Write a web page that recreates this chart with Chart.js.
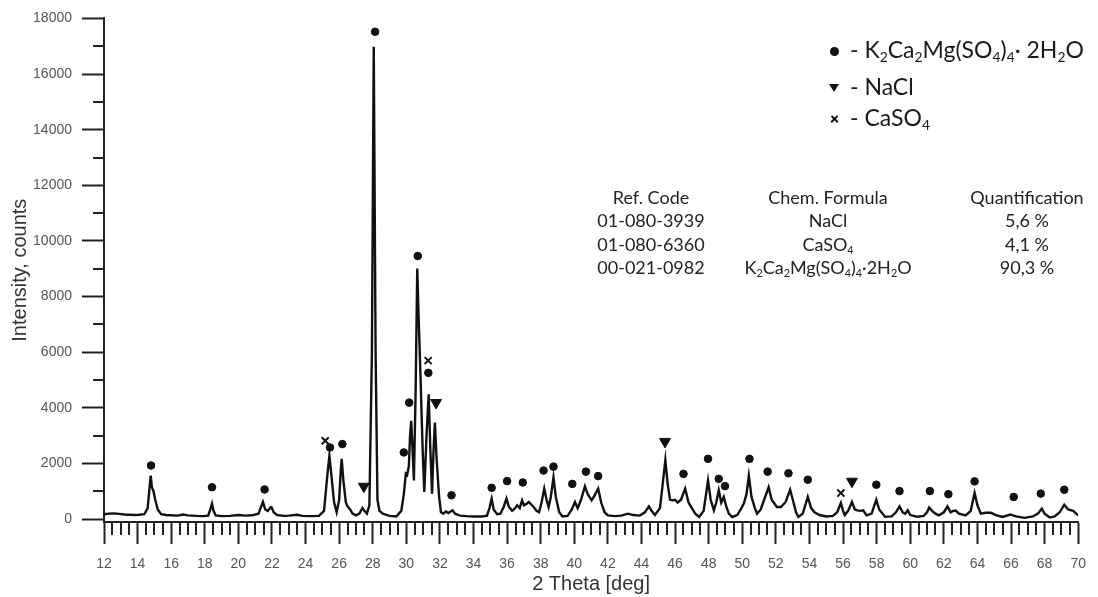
<!DOCTYPE html>
<html>
<head>
<meta charset="utf-8">
<script src="https://cdn.jsdelivr.net/npm/chart.js@4/dist/chart.umd.min.js"></script>
<style>
  html, body { margin: 0; padding: 0; background: #fff; }
  .wrap { position: relative; width: 1098px; height: 597px; overflow: hidden; }
  canvas { position: absolute; left: 0; top: 0; }
  .txt { position: absolute; font-family: Lato, "Open Sans", sans-serif; color: #1a1a1a; white-space: nowrap; }
  .legend-row { font-size: 23px; line-height: 22px; }
  .tbl { font-size: 18px; line-height: 23.4px; color: #222; text-align: center; }
  sub { font-size: 0.6em; vertical-align: -0.3em; line-height: 0; }
  .mk-circle { position: absolute; width: 9px; height: 9px; border-radius: 50%; background: #111; }
  .mk-tri { position: absolute; width: 0; height: 0; border-left: 5px solid transparent; border-right: 5px solid transparent; border-top: 8px solid #111; }
  .mk-x { position: absolute; width: 9px; height: 2.4px; background: #111; }
</style>
</head>
<body>
<div class="wrap">
  <canvas id="xrdChart" width="1098" height="597"></canvas>

  <div class="mk-circle" style="left:830px; top:47px;"></div>
  <div class="txt legend-row" style="left:850px; top:38px;">- K<sub>2</sub>Ca<sub>2</sub>Mg(SO<sub>4</sub>)<sub>4</sub>· 2H<sub>2</sub>O</div>
  <div class="mk-tri" style="left:829px; top:84px;"></div>
  <div class="txt legend-row" style="left:850px; top:75px;">- NaCl</div>
  <div class="mk-x" style="left:830px; top:118px; transform: rotate(45deg);"></div>
  <div class="mk-x" style="left:830px; top:118px; transform: rotate(-45deg);"></div>
  <div class="txt legend-row" style="left:850px; top:106px;">- CaSO<sub>4</sub></div>

  <div class="txt tbl" style="left:576px; top:186px; width:150px;">Ref. Code<br>01-080-3939<br>01-080-6360<br>00-021-0982</div>
  <div class="txt tbl" style="left:728px; top:186px; width:200px;">Chem. Formula<br>NaCl<br>CaSO<sub>4</sub><br>K<sub>2</sub>Ca<sub>2</sub>Mg(SO<sub>4</sub>)<sub>4</sub>·2H<sub>2</sub>O</div>
  <div class="txt tbl" style="left:952px; top:186px; width:150px;">Quantification<br>5,6 %<br>4,1 %<br>90,3 %</div>
</div>

<script>
// diffraction pattern
const thetaValues = [
  12.0, 12.3, 12.6, 12.9, 13.2, 13.5, 13.8, 14.1, 14.4, 14.6, 14.72, 14.78, 14.85, 14.95, 15.05, 15.2, 15.4, 15.7,
  16.0, 16.4, 16.7, 17.0, 17.5, 17.9, 18.2, 18.33, 18.43, 18.52, 18.65, 19.0, 19.5, 20.0, 20.4, 20.8,
  21.2, 21.35, 21.46, 21.6, 21.75, 21.9, 21.97, 22.1, 22.3, 22.7, 23.0, 23.5, 23.8, 24.3, 24.8,
  25.1, 25.3, 25.42, 25.55, 25.7, 25.85, 26.0, 26.1, 26.15, 26.25, 26.4, 26.5, 26.65, 26.8, 27.0,
  27.2, 27.39, 27.5, 27.65, 27.8, 27.95, 28.06, 28.17, 28.28, 28.4, 28.6, 29.0, 29.4, 29.7, 29.85,
  29.97, 30.05, 30.15, 30.22, 30.29, 30.37, 30.45, 30.55, 30.65, 30.72, 30.85, 30.97, 31.07, 31.2,
  31.33, 31.43, 31.53, 31.62, 31.7, 31.8, 31.95, 32.06, 32.2, 32.35, 32.5, 32.75, 32.9, 33.2, 33.6,
  34.0, 34.5, 34.8, 34.95, 35.08, 35.2, 35.4, 35.6, 35.8, 35.96, 36.1, 36.3, 36.45, 36.6, 36.75,
  36.89, 37.0, 37.15, 37.29, 37.45, 37.58, 37.75, 37.9, 38.05, 38.21, 38.35, 38.47, 38.6, 38.76,
  38.9, 39.1, 39.3, 39.6, 39.85, 40.04, 40.2, 40.4, 40.63, 40.8, 41.03, 41.2, 41.42, 41.6, 41.8,
  42.0, 42.4, 42.8, 43.2, 43.5, 43.9, 44.2, 44.44, 44.6, 44.8, 45.1, 45.25, 45.42, 45.55, 45.7,
  45.85, 46.0, 46.15, 46.35, 46.6, 46.8, 47.0, 47.2, 47.43, 47.7, 47.96, 48.12, 48.31, 48.45, 48.6,
  48.75, 48.9, 49.05, 49.2, 49.4, 49.7, 49.95, 50.09, 50.25, 50.39, 50.55, 50.75, 50.88, 51.1, 51.3,
  51.57, 51.75, 52.06, 52.3, 52.58, 52.85, 53.05, 53.2, 53.34, 53.6, 53.9, 54.1, 54.3, 54.6, 55.0,
  55.4, 55.65, 55.87, 56.0, 56.1, 56.3, 56.53, 56.7, 56.85, 57.05, 57.2, 57.4, 57.7, 57.98, 58.15,
  58.5, 58.9, 59.15, 59.36, 59.55, 59.7, 59.85, 60.0, 60.4, 60.8, 61.0, 61.13, 61.3, 61.5, 61.7,
  62.0, 62.22, 62.4, 62.55, 62.71, 62.9, 63.3, 63.6, 63.83, 64.0, 64.2, 64.5, 64.8, 65.1, 65.5,
  65.96, 66.3, 66.8, 67.3, 67.6, 67.83, 68.0, 68.3, 68.6, 68.9, 69.17, 69.4, 69.7, 70.0
];
const intensityValues = [
  180, 200, 210, 190, 170, 160, 150, 160, 180, 400, 1200, 1570, 1150, 1000, 700, 350, 180, 150,
  140, 130, 170, 140, 120, 110, 130, 350, 560, 300, 140, 110, 120, 150, 130, 140,
  200, 450, 620, 350, 300, 420, 430, 250, 150, 120, 130, 160, 120, 110, 120,
  300, 1600, 2285, 1500, 600, 250, 700, 1800, 2170, 1400, 600, 460, 350, 200, 140,
  200, 400, 300, 200, 500, 6000, 16980, 6000, 700, 300, 200, 120, 100, 300, 900,
  1640, 1600, 1900, 3000, 3540, 2500, 1390, 4500, 9010, 7500, 5000, 2500, 980, 3000,
  4490, 2500, 920, 2500, 3470, 2200, 800, 260, 200, 280, 220, 320, 200, 130, 110,
  100, 100, 130, 400, 740, 350, 180, 200, 450, 740, 450, 300, 380, 500, 400,
  680, 500, 550, 620, 520, 440, 300, 250, 600, 1100, 700, 440, 800, 1510,
  800, 250, 100, 120, 350, 620, 400, 700, 1180, 900, 680, 850, 1100, 600, 250,
  140, 110, 130, 200, 150, 130, 250, 460, 300, 150, 400, 1200, 2130, 1300, 700,
  680, 700, 600, 700, 1100, 600, 400, 200, 80, 300, 1390, 700, 320, 600, 1040,
  600, 800, 450, 200, 80, 150, 400, 560, 900, 1570, 800, 400, 200, 350, 700,
  1150, 700, 440, 440, 620, 1060, 600, 250, 80, 200, 800, 400, 250, 150, 100,
  120, 250, 580, 300, 150, 300, 620, 350, 320, 300, 320, 140, 200, 700, 350,
  90, 100, 250, 460, 250, 200, 320, 150, 90, 120, 250, 420, 300, 200, 140,
  250, 460, 250, 300, 310, 200, 140, 300, 940, 500, 200, 230, 230, 150, 80,
  170, 100, 50, 100, 200, 380, 200, 60, 100, 250, 520, 350, 300, 140
];

// phase markers
const k2Theta = [14.8, 18.43, 21.56, 25.45, 26.19, 28.14, 29.85, 30.17, 30.68, 31.31, 32.69, 35.08, 36.0, 36.93,
  38.17, 38.76, 39.88, 40.69, 41.42, 46.5, 47.96, 48.6, 48.97, 50.43, 51.51, 52.75, 53.9, 57.98, 59.36,
  61.17, 62.27, 63.83, 66.16, 67.77, 69.17];
const k2Counts = [1930, 1150, 1070, 2580, 2700, 17520, 2400, 4190, 9460, 5260, 860, 1130, 1370, 1320,
  1750, 1890, 1270, 1710, 1550, 1630, 2170, 1450, 1190, 2170, 1710, 1650, 1420, 1240, 1010,
  1010, 900, 1360, 800, 920, 1060];
const naclTheta = [27.47, 31.77, 45.4, 56.53];
const naclCounts = [1180, 4190, 2790, 1360];
const caso4Theta = [25.17, 31.3, 55.87];
const caso4Counts = [2820, 5700, 940];

const xTickValues = [12, 14, 16, 18, 20, 22, 24, 26, 28, 30, 32, 34, 36, 38, 40, 42, 44, 46, 48, 50,
  52, 54, 56, 58, 60, 62, 64, 66, 68, 70];
const yTickValues = [0, 2000, 4000, 6000, 8000, 10000, 12000, 14000, 16000, 18000];

const axisColor = "#222";
const labelColor = "#555";

function toPoints(xs, ys) {
  return xs.map((x, i) => ({ x, y: ys[i] }));
}

// short ticks between the labelled ones
const minorTicks = {
  id: "minorTicks",
  afterDraw(chart) {
    const { ctx } = chart;
    const x = chart.scales.x;
    const y = chart.scales.y;
    ctx.save();
    ctx.strokeStyle = axisColor;
    ctx.lineWidth = 2;
    ctx.beginPath();
    for (let v = x.min; v <= x.max; v += 0.5) {
      if (v % 2 === 0) continue;
      const px = Math.round(x.getPixelForValue(v));
      ctx.moveTo(px, x.top);
      ctx.lineTo(px, x.top + 13);
    }
    for (let v = 1000; v < y.max; v += 2000) {
      const py = Math.round(y.getPixelForValue(v));
      ctx.moveTo(y.right, py);
      ctx.lineTo(y.right - 11, py);
    }
    ctx.stroke();
    ctx.restore();
  },
};

function buildXrdChart(ctx) {
  const markerBase = {
    type: "scatter",
    showLine: false,
    backgroundColor: "#111",
    borderColor: "#111",
  };

  return new Chart(ctx, {
    type: "line",
    data: {
      datasets: [
        {
          label: "pattern",
          data: toPoints(thetaValues, intensityValues),
          borderColor: "#111",
          borderWidth: 2.4,
          pointRadius: 0,
          tension: 0,
          fill: false,
        },
        {
          ...markerBase,
          label: "K2Ca2Mg(SO4)4·2H2O",
          data: toPoints(k2Theta, k2Counts),
          pointStyle: "circle",
          pointRadius: 3.8,
          borderWidth: 1,
        },
        {
          ...markerBase,
          label: "NaCl",
          data: toPoints(naclTheta, naclCounts),
          pointStyle: "triangle",
          rotation: 180,
          pointRadius: 6.3,
          borderWidth: 1,
        },
        {
          ...markerBase,
          label: "CaSO4",
          data: toPoints(caso4Theta, caso4Counts),
          pointStyle: "crossRot",
          pointRadius: 5,
          borderWidth: 2,
        },
      ],
    },
    options: {
      responsive: false,
      animation: false,
      layout: {
        padding: { top: 14, right: 13, left: 0, bottom: 0 },
      },
      plugins: {
        legend: { display: false },
        tooltip: { enabled: false },
      },
      scales: {
        x: {
          type: "linear",
          min: 12,
          max: 70,
          afterBuildTicks(scale) {
            scale.ticks = xTickValues.map((value) => ({ value }));
          },
          afterFit(scale) {
            scale.height = 75;
          },
          grid: {
            drawOnChartArea: false,
            tickLength: 22,
            tickWidth: 2,
            tickColor: axisColor,
          },
          border: { color: axisColor, width: 2 },
          ticks: {
            color: labelColor,
            padding: 12,
            maxRotation: 0,
            autoSkip: false,
            font: { family: "Liberation Sans", size: 14 },
            callback(value) {
              return String(value);
            },
          },
          title: {
            display: true,
            text: "2 Theta [deg]",
            color: "#333",
            font: { family: "Liberation Sans", size: 20 },
            padding: { top: 0, bottom: 1 },
          },
        },
        y: {
          type: "linear",
          min: -100,
          max: 18000,
          afterBuildTicks(scale) {
            scale.ticks = yTickValues.map((value) => ({ value }));
          },
          afterFit(scale) {
            scale.width = 104;
          },
          grid: {
            drawOnChartArea: false,
            tickLength: 22,
            tickWidth: 2,
            tickColor: axisColor,
          },
          border: { color: axisColor, width: 2 },
          ticks: {
            color: labelColor,
            padding: 10,
            font: { family: "Liberation Sans", size: 14 },
            callback(value) {
              return String(value);
            },
          },
          title: {
            display: true,
            text: "Intensity, counts",
            color: "#333",
            font: { family: "Liberation Sans", size: 20 },
            padding: { top: 8, bottom: 0 },
          },
        },
      },
    },
    plugins: [minorTicks],
  });
}

buildXrdChart(document.getElementById("xrdChart"));
</script>
</body>
</html>
